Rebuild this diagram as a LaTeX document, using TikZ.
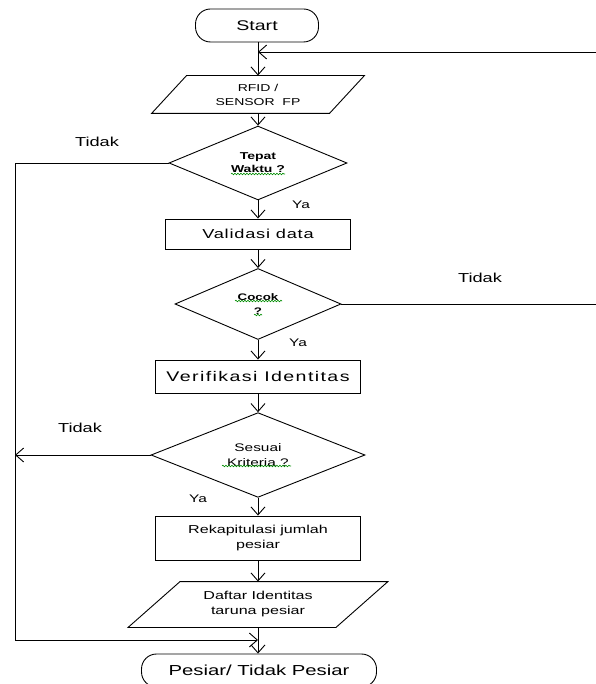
\documentclass[tikz,border=0pt]{standalone}
\usepackage{fontspec}
\setmainfont{Liberation Sans}[FakeStretch=1.4]
\newfontfamily\spacedA{Liberation Sans}[FakeStretch=1.4,LetterSpace=6]
\newfontfamily\spacedB{Liberation Sans}[FakeStretch=1.4,LetterSpace=10]
\usetikzlibrary{shapes.geometric,arrows.meta,decorations.pathmorphing,calc}
\begin{document}
\begin{tikzpicture}[x=1pt,y=-1pt,line width=0.9pt,
  box/.style={draw,rectangle,align=center,inner sep=0pt},
  term/.style={draw,rectangle,rounded corners=15pt,align=center,inner sep=0pt},
  dec/.style={draw,diamond,align=center,inner sep=0pt},
  io/.style={rectangle,align=center,inner sep=0pt},
  arr/.style={-{Straight Barb[length=8pt,width=14pt]}},
  lbl/.style={font=\fontsize{13}{15}\selectfont},
  ylbl/.style={font=\fontsize{11}{13}\selectfont},
  wavy/.style={decorate,decoration={snake,amplitude=0.8pt,segment length=3pt},draw=green!55!black,line width=0.6pt}]
\useasboundingbox (0,0) rectangle (595,684);

% nodes
\node[term,minimum width=123pt,minimum height=33pt,font=\fontsize{14}{16}\selectfont] (start) at (257,25.5) {Start};
\node[io,minimum width=177pt,minimum height=37pt,font=\fontsize{10}{14}\selectfont] (rfid) at (258,94.5) {RFID /\\SENSOR~~FP};
\draw ($(rfid.north west)+(17.5,0)$) -- ($(rfid.north east)+(17.5,0)$) -- ($(rfid.south east)+(-17.5,0)$) -- ($(rfid.south west)+(-17.5,0)$) -- cycle;
\node[dec,minimum width=178pt,minimum height=65pt,font=\bfseries\fontsize{10}{13}\selectfont] (tepat) at (258,163) {Tepat\\Waktu ?};
\node[box,minimum width=185pt,minimum height=30pt,font=\spacedA\fontsize{13}{15}\selectfont] (valid) at (258,234) {Validasi data};
\node[dec,minimum width=166pt,minimum height=71pt,font=\bfseries\fontsize{9.5}{14}\selectfont] (cocok) at (258,304) {Cocok\\?};
\node[box,minimum width=205pt,minimum height=33pt,font=\spacedB\fontsize{14}{16}\selectfont] (verif) at (258,376.5) {Verifikasi Identitas};
\node[dec,minimum width=214pt,minimum height=76pt,font=\fontsize{11}{15}\selectfont] (sesuai) at (258,455) {Sesuai\\Kriteria ?};
\node[box,minimum width=205pt,minimum height=44pt,font=\fontsize{11.5}{15}\selectfont] (rekap) at (258,538) {Rekapitulasi jumlah\\pesiar};
\node[io,minimum width=207pt,minimum height=45pt,font=\fontsize{11.5}{15}\selectfont] (daftar) at (258,604.5) {Daftar Identitas\\taruna pesiar};
\draw ($(daftar.north west)+(26,0)$) -- ($(daftar.north east)+(26,0)$) -- ($(daftar.south east)+(-26,0)$) -- ($(daftar.south west)+(-26,0)$) -- cycle;
\node[term,minimum width=235pt,minimum height=33pt,font=\fontsize{14.5}{16}\selectfont] (pesiar) at (259,670.5) {Pesiar/ Tidak Pesiar};

% helper coordinates
\coordinate (fb) at (258,52);
\coordinate (rc1) at (600,304);
\coordinate (rc2) at (600,52);
\coordinate (lt) at (15,163);
\coordinate (lb) at (15,640);
\coordinate (ls) at (15,455);
\coordinate (join) at (258,640);

% connectors
\draw[arr] (start.south -| fb) -- (rfid.north);
\draw[arr] (rfid.south) -- (tepat.north);
\draw[arr] (tepat.south) -- (valid.north);
\draw[arr] (valid.south) -- (cocok.north);
\draw[arr] (cocok.south) -- (verif.north);
\draw[arr] (verif.south) -- (sesuai.north);
\draw[arr] (sesuai.south) -- (rekap.north);
\draw[arr] (rekap.south) -- (daftar.north);
\draw[arr] (daftar.south) -- (pesiar.north -| join);
\draw[arr] (tepat.west) -- (lt) -- (lb) -- (join);
\draw[arr] (sesuai.west) -- (ls);
\draw[arr] (cocok.east) -- (rc1) -- (rc2) -- (fb);

% labels
\node[lbl] (t1) at (97,142) {Tidak};
\node[ylbl] (y1) at (301,205) {Ya};
\node[lbl] (t2) at (480,278) {Tidak};
\node[ylbl] (y2) at (298,343) {Ya};
\node[lbl] (t3) at (80,428) {Tidak};
\node[ylbl] (y3) at (198,499) {Ya};

% spell-check squiggles
\draw[wavy] ($(tepat)+(-27,11)$) -- ++(54,0);
\draw[wavy] ($(cocok)+(-23,-3)$) -- ++(47,0);
\draw[wavy] ($(cocok)+(-4,11)$) -- ++(8,0);
\draw[wavy] ($(sesuai)+(-36,11)$) -- ++(69,0);
\end{tikzpicture}
\end{document}
